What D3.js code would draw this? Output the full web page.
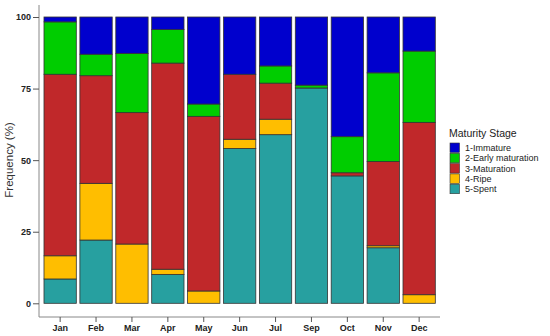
<!DOCTYPE html>
<html>
<head>
<meta charset="utf-8">
<script src="https://cdn.jsdelivr.net/npm/d3@7"></script>
<style>
  body { margin: 0; background: #fff; }
  svg { font-family: "Liberation Sans", Arial, sans-serif; }
</style>
</head>
<body>
<div id="chart"></div>
<script>
// months and maturity stages
const months = ["Jan", "Feb", "Mar", "Apr", "May", "Jun", "Jul", "Sep", "Oct", "Nov", "Dec"];
const stages = ["1-Immature", "2-Early maturation", "3-Maturation", "4-Ripe", "5-Spent"];
const stageColors = ["#0000CD", "#00CD00", "#C0282A", "#FFBE00", "#27A0A0"];

// frequency (%) per stage, one value per month
const immature   = [1.7, 13.0, 12.7, 4.4, 30.4, 20.0, 17.1, 23.8, 41.8, 19.5, 11.9];
const early      = [18.3, 7.5, 20.7, 11.7, 4.3, 0.0, 6.0, 1.0, 12.6, 31.0, 24.9];
const maturation = [63.4, 37.6, 45.9, 72.0, 61.0, 22.7, 12.6, 0.0, 1.1, 29.4, 60.2];
const ripe       = [8.1, 19.8, 20.7, 1.8, 4.3, 3.2, 5.4, 0.0, 0.0, 0.7, 3.0];
const spent      = [8.5, 22.1, 0.0, 10.1, 0.0, 54.1, 58.9, 75.2, 44.5, 19.4, 0.0];
const yTicks = [0, 25, 50, 75, 100];

const width = 550;
const height = 336;

const svg = d3.select("#chart")
  .append("svg")
  .attr("width", width)
  .attr("height", height);

// build rows for stacking (stack bottom to top: spent first)
const seriesByStage = [immature, early, maturation, ripe, spent];
const rows = months.map((m, i) => {
  const r = { month: m };
  stages.forEach((s, j) => { r[s] = seriesByStage[j][i]; });
  return r;
});
const stackOrder = stages.slice().reverse();
const stacked = d3.stack().keys(stackOrder)(rows);

const x = d3.scaleBand()
  .domain(months)
  .range([40.4, 438.9])
  .paddingInner(0.1)
  .paddingOuter(0.1);

const y = d3.scaleLinear()
  .domain([0, 100])
  .range([303.3, 17]);

const color = d3.scaleOrdinal().domain(stages).range(stageColors);

// bars
svg.append("g")
  .selectAll("g")
  .data(stacked)
  .enter().append("g")
  .attr("fill", d => color(d.key))
  .selectAll("rect")
  .data(d => d)
  .enter().append("rect")
  .attr("x", d => x(d.data.month))
  .attr("width", x.bandwidth())
  .attr("y", d => y(d[1]))
  .attr("height", d => y(d[0]) - y(d[1]))
  .attr("stroke", "#333")
  .attr("stroke-width", 0.8)
  .attr("display", d => (d[1] - d[0]) > 0 ? null : "none");

// y axis
const yAxis = svg.append("g")
  .attr("transform", "translate(39,0)")
  .call(d3.axisLeft(y).tickValues(yTicks).tickSize(6).tickSizeOuter(0));
yAxis.select(".domain").attr("d", "M0,5V317").attr("stroke", "#888");
yAxis.selectAll(".tick line").attr("stroke", "#555");
yAxis.selectAll("text")
  .attr("font-size", 9)
  .attr("font-weight", "bold")
  .attr("fill", "#222")
  .attr("x", -8);

// x axis
const xAxis = svg.append("g")
  .attr("transform", "translate(0,317)")
  .call(d3.axisBottom(x).tickSize(5).tickSizeOuter(0));
xAxis.select(".domain").attr("d", "M39,0H440").attr("stroke", "#888");
xAxis.selectAll(".tick line").attr("stroke", "#555");
xAxis.selectAll("text")
  .attr("font-size", 9)
  .attr("font-weight", "bold")
  .attr("fill", "#222")
  .attr("y", 8);

// y axis title
svg.append("text")
  .attr("transform", "translate(13,160) rotate(-90)")
  .attr("text-anchor", "middle")
  .attr("font-size", 11.5)
  .attr("fill", "#333")
  .text("Frequency (%)");

// legend
const legend = svg.append("g").attr("transform", "translate(450,0)");
legend.append("text")
  .attr("x", -1)
  .attr("y", 137)
  .attr("font-size", 10.5)
  .attr("fill", "#222")
  .text("Maturity Stage");
const items = legend.selectAll("g.item")
  .data(stages)
  .enter().append("g")
  .attr("class", "item")
  .attr("transform", (d, i) => `translate(0,${143 + i * 10.3})`);
items.append("rect")
  .attr("width", 9.5)
  .attr("height", 9.5)
  .attr("fill", d => color(d))
  .attr("stroke", "#333")
  .attr("stroke-width", 0.6);
items.append("text")
  .attr("x", 15)
  .attr("y", 8.2)
  .attr("font-size", 9)
  .attr("fill", "#222")
  .text(d => d);
</script>
</body>
</html>
